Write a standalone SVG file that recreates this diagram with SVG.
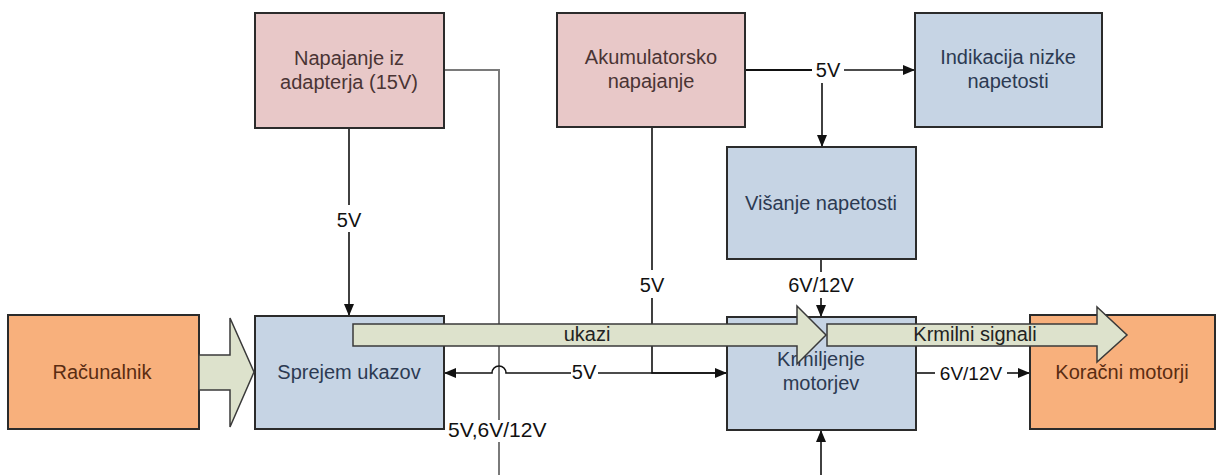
<svg xmlns="http://www.w3.org/2000/svg" width="1217" height="475" viewBox="0 0 1217 475">
<style>
.box{stroke:#2b2b2b;stroke-width:2}
.pink{fill:#e8c8c8}
.blue{fill:#c6d4e4}
.orange{fill:#f8b07c}
.t{font-family:"Liberation Sans",Arial,sans-serif;font-size:20px;text-anchor:middle}
.tp{fill:#4a3434}
.tb{fill:#2c3a52}
.to{fill:#5a2c12}
.lbl{font-family:"Liberation Sans",Arial,sans-serif;font-size:20px;fill:#111;text-anchor:middle}
.ln{stroke:#111;stroke-width:1.6;fill:none}
.gl{stroke:#7a7a7a;stroke-width:2;fill:none}
.big{fill:#dde2cc;stroke:#3a3a3a;stroke-width:1.5}
</style>
<defs>
<marker id="ah" viewBox="0 0 12 10" refX="12" refY="5" markerWidth="12" markerHeight="10" markerUnits="userSpaceOnUse" orient="auto">
<path d="M0,0 L12,5 L0,10 Z" fill="#111"/>
</marker>
</defs>
<rect width="1217" height="475" fill="#fff"/>

<g id="connectors">
<path class="gl" d="M444,70 H499 V420"/>
<path class="gl" d="M499,442 V475"/>
<path class="ln" d="M349,128 V205"/>
<path class="ln" d="M349,232 V316" marker-end="url(#ah)"/>
<text class="lbl" x="349" y="227">5V</text>
<path class="ln" d="M745,70 H812" style="stroke-width:2.2"/>
<path class="ln" d="M844,70 H915" marker-end="url(#ah)"/>
<text class="lbl" x="828" y="77">5V</text>
<path class="ln" d="M822,83 V147" marker-end="url(#ah)"/>
<path class="ln" d="M652,127 V270"/>
<path class="ln" d="M652,298 V373 H727" marker-end="url(#ah)"/>
<text class="lbl" x="652" y="292">5V</text>
<path class="ln" d="M821,259 V272"/>
<text class="lbl" x="821" y="292">6V/12V</text>
<path class="ln" d="M821,298 V317" marker-end="url(#ah)"/>
<path class="ln" d="M727,373 H598"/>
<path class="ln" d="M571,373 H506 A7,7 0 0 0 492,373 H444" marker-end="url(#ah)"/>
<text class="lbl" x="584" y="379">5V</text>
<path class="ln" d="M916,373 H935"/>
<path class="ln" d="M1007,373 H1030" marker-end="url(#ah)"/>
<text class="lbl" x="971" y="380" style="font-size:19px">6V/12V</text>
<path class="ln" d="M821,475 V430" marker-end="url(#ah)"/>
<text class="lbl" x="448" y="437" style="text-anchor:start;font-size:21px">5V,6V/12V</text>
</g>

<g id="n-adapter">
<rect class="box pink" x="255" y="13" width="189" height="115"/>
<text class="t tp" x="349" y="65">Napajanje iz</text>
<text class="t tp" x="349" y="89">adapterja (15V)</text>
</g>
<g id="n-akumulator">
<rect class="box pink" x="557" y="13" width="188" height="114"/>
<text class="t tp" x="651" y="64">Akumulatorsko</text>
<text class="t tp" x="651" y="88">napajanje</text>
</g>
<g id="n-indikacija">
<rect class="box blue" x="915" y="13" width="187" height="114"/>
<text class="t tb" x="1008" y="64">Indikacija nizke</text>
<text class="t tb" x="1008" y="88">napetosti</text>
</g>
<g id="n-visanje">
<rect class="box blue" x="727" y="147" width="189" height="112"/>
<text class="t tb" x="821" y="210">Višanje napetosti</text>
</g>
<g id="n-racunalnik">
<rect class="box orange" x="8" y="315" width="191" height="114"/>
<text class="t to" x="102" y="379">Računalnik</text>
</g>
<g id="n-sprejem">
<rect class="box blue" x="255" y="316" width="189" height="113"/>
<text class="t tb" x="349" y="379">Sprejem ukazov</text>
</g>
<g id="n-krmiljenje">
<rect class="box blue" x="727" y="317" width="189" height="113"/>
<text class="t tb" x="821" y="366">Krmiljenje</text>
<text class="t tb" x="821" y="390">motorjev</text>
</g>
<g id="n-koracni">
<rect class="box orange" x="1030" y="315" width="185" height="114"/>
<text class="t to" x="1122" y="379">Koračni motorji</text>
</g>

<g id="big-arrows">
<polygon class="big" points="199,355 230,355 230,318 254,372 230,427 230,390 199,390"/>
<polygon class="big" points="353,324 797,324 797,306 826,335 797,364 797,346 353,346"/>
<text class="lbl" x="587" y="341" style="fill:#222">ukazi</text>
<polygon class="big" points="827,324 1097,324 1097,307 1127,335 1097,362 1097,346 827,346"/>
<text class="lbl" x="975" y="341" style="fill:#222">Krmilni signali</text>
</g>
</svg>
